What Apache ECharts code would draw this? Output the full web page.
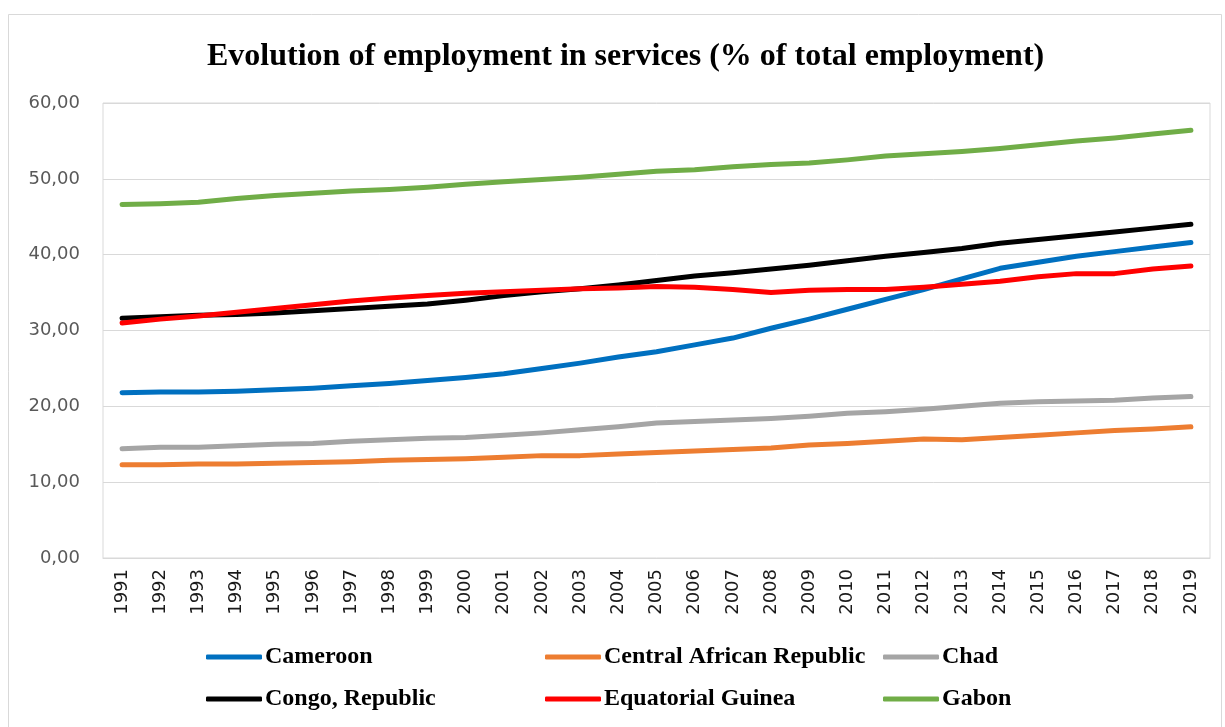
<!DOCTYPE html>
<html>
<head>
<meta charset="utf-8">
<title>Evolution of employment in services</title>
<script src="https://cdn.jsdelivr.net/npm/echarts@6/dist/echarts.min.js"></script>
<style>
  html, body { margin: 0; padding: 0; background: #ffffff; }
  #chart { width: 1225px; height: 727px; }
</style>
</head>
<body>
<div id="chart"></div>
<script>
// Employment in services, % of total employment, 1991-2019
const years = ['1991','1992','1993','1994','1995','1996','1997','1998','1999','2000',
  '2001','2002','2003','2004','2005','2006','2007','2008','2009','2010',
  '2011','2012','2013','2014','2015','2016','2017','2018','2019'];

const cameroon = [21.8, 21.9, 21.9, 22.0, 22.2, 22.4, 22.7, 23.0, 23.4, 23.8,
  24.3, 25.0, 25.7, 26.5, 27.2, 28.1, 29.0, 30.3, 31.5, 32.8,
  34.1, 35.4, 36.8, 38.2, 39.0, 39.8, 40.4, 41.0, 41.6];

const centralAfricanRepublic = [12.3, 12.3, 12.4, 12.4, 12.5, 12.6, 12.7, 12.9, 13.0, 13.1,
  13.3, 13.5, 13.5, 13.7, 13.9, 14.1, 14.3, 14.5, 14.9, 15.1,
  15.4, 15.7, 15.6, 15.9, 16.2, 16.5, 16.8, 17.0, 17.3];

const chad = [14.4, 14.6, 14.6, 14.8, 15.0, 15.1, 15.4, 15.6, 15.8, 15.9,
  16.2, 16.5, 16.9, 17.3, 17.8, 18.0, 18.2, 18.4, 18.7, 19.1,
  19.3, 19.6, 20.0, 20.4, 20.6, 20.7, 20.8, 21.1, 21.3];

const congoRepublic = [31.6, 31.8, 32.0, 32.1, 32.3, 32.6, 32.9, 33.2, 33.5, 34.0,
  34.6, 35.1, 35.5, 36.0, 36.6, 37.2, 37.6, 38.1, 38.6, 39.2,
  39.8, 40.3, 40.8, 41.5, 42.0, 42.5, 43.0, 43.5, 44.0];

const equatorialGuinea = [31.0, 31.5, 31.9, 32.4, 32.9, 33.4, 33.9, 34.3, 34.6, 34.9,
  35.1, 35.3, 35.5, 35.6, 35.8, 35.7, 35.4, 35.0, 35.3, 35.4,
  35.4, 35.7, 36.1, 36.5, 37.1, 37.5, 37.5, 38.1, 38.5];

const gabon = [46.6, 46.7, 46.9, 47.4, 47.8, 48.1, 48.4, 48.6, 48.9, 49.3,
  49.6, 49.9, 50.2, 50.6, 51.0, 51.2, 51.6, 51.9, 52.1, 52.5,
  53.0, 53.3, 53.6, 54.0, 54.5, 55.0, 55.4, 55.9, 56.4];

const yTicks = { min: 0, max: 60, interval: 10 };

const seriesDefs = [
  { name: 'Cameroon', data: cameroon, color: '#0070C0' },
  { name: 'Central African Republic', data: centralAfricanRepublic, color: '#ED7D31' },
  { name: 'Chad', data: chad, color: '#A5A5A5' },
  { name: 'Congo, Republic', data: congoRepublic, color: '#000000' },
  { name: 'Equatorial Guinea', data: equatorialGuinea, color: '#FF0000' },
  { name: 'Gabon', data: gabon, color: '#70AD47' }
];

// legend placed as a 3 x 2 grid of single entries
const legendSlots = [
  { left: 206, top: 645 }, { left: 545, top: 645 }, { left: 883, top: 645 },
  { left: 206, top: 687 }, { left: 545, top: 687 }, { left: 883, top: 687 }
];

const legends = seriesDefs.map((s, i) => ({
  data: [s.name],
  left: legendSlots[i].left,
  top: legendSlots[i].top,
  padding: 0,
  orient: 'horizontal',
  icon: 'roundRect',
  itemWidth: 56,
  itemHeight: 5,
  itemGap: 0,
  selectedMode: false,
  textStyle: {
    fontFamily: 'Liberation Serif, serif',
    fontWeight: 'bold',
    fontSize: 24,
    color: '#000000',
    padding: [0, 0, 0, -2]
  }
}));

const chart = echarts.init(document.getElementById('chart'), null, { renderer: 'canvas' });

chart.setOption({
  backgroundColor: '#ffffff',
  animation: false,
  graphic: [{
    type: 'rect',
    shape: { x: 8.5, y: 14.5, width: 1213, height: 730 },
    style: { fill: 'none', stroke: '#d9d9d9', lineWidth: 1 },
    silent: true,
    z: -1
  }],
  title: {
    text: 'Evolution of employment in services (% of total employment)',
    left: 207,
    top: 41,
    padding: 0,
    textStyle: {
      fontFamily: 'Liberation Serif, serif',
      fontWeight: 'bold',
      fontSize: 32,
      color: '#000000'
    }
  },
  legend: legends,
  grid: {
    left: 103,
    right: 15,
    top: 103,
    bottom: 169,
    show: true,
    borderColor: '#d9d9d9',
    borderWidth: 1,
    containLabel: false
  },
  xAxis: {
    type: 'category',
    data: years,
    boundaryGap: true,
    axisLine: { show: true, lineStyle: { color: '#d9d9d9', width: 1 } },
    axisTick: { show: false },
    axisLabel: {
      rotate: 90,
      interval: 0,
      margin: 11,
      fontFamily: 'DejaVu Sans, sans-serif',
      fontSize: 18,
      color: '#1a1a1a'
    },
    splitLine: { show: false }
  },
  yAxis: {
    type: 'value',
    min: yTicks.min,
    max: yTicks.max,
    interval: yTicks.interval,
    axisLine: { show: false },
    axisTick: { show: false },
    axisLabel: {
      margin: 23,
      fontFamily: 'DejaVu Sans, sans-serif',
      fontSize: 18,
      color: '#595959',
      formatter: v => v.toFixed(2).replace('.', ',')
    },
    splitLine: { show: true, lineStyle: { color: '#d9d9d9', width: 1 } }
  },
  series: seriesDefs.map(s => ({
    name: s.name,
    type: 'line',
    data: s.data,
    showSymbol: false,
    symbol: 'none',
    smooth: false,
    color: s.color,
    lineStyle: { color: s.color, width: 5, cap: 'round', join: 'round' },
    itemStyle: { color: s.color }
  }))
});
</script>
</body>
</html>
